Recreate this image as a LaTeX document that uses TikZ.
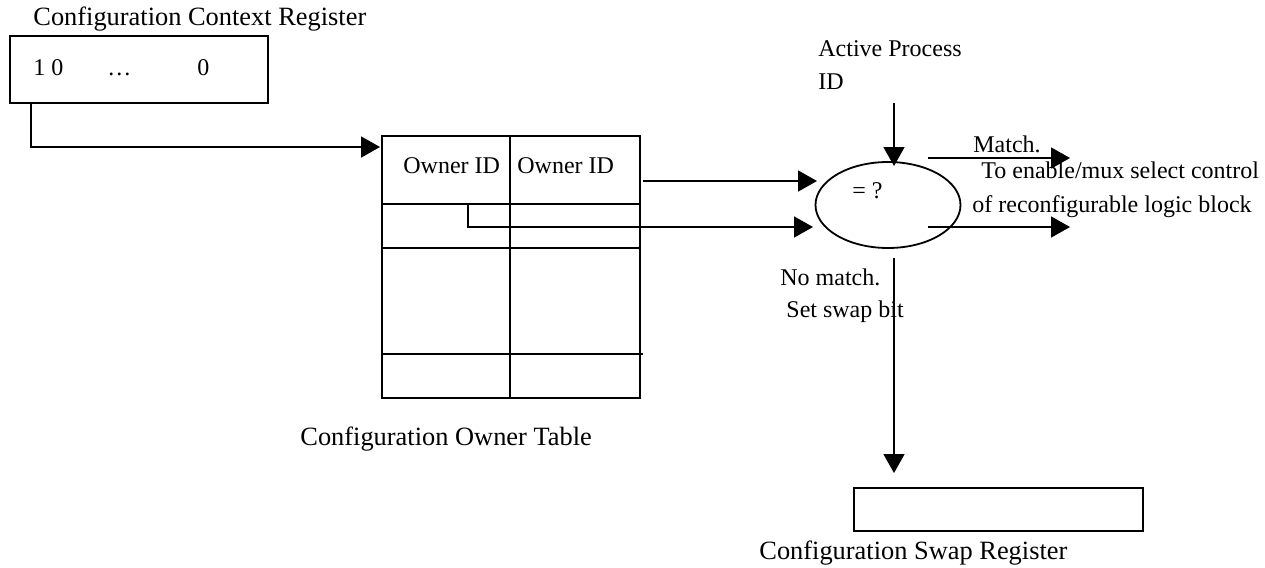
\documentclass[tikz,border=0pt]{standalone}
\usepackage{fontspec}
\setmainfont{Liberation Serif}
\usetikzlibrary{arrows.meta,shapes.geometric}

\tikzset{
  wire/.style={line width=0.9pt},
  arr/.style={wire, -{Triangle[length=9.5pt,width=10.5pt]}},
  boxnode/.style={draw, line width=0.9pt, rectangle, inner sep=0pt},
  txt/.style={inner sep=0pt, anchor=base west, font=\fontsize{12}{14}\selectfont},
  title/.style={inner sep=0pt, anchor=base west, font=\fontsize{13.2}{15}\selectfont},
}

\begin{document}
\begin{tikzpicture}[x=0.5pt, y=-0.5pt]
\useasboundingbox (0,0) rectangle (1265,568);

% Configuration context register
\node[title] (ccrlbl) at (33,25) {Configuration Context Register};
\node[boxnode, minimum width=129pt, minimum height=33.5pt] (ccr) at (139,69.5) {};
\node[txt] (bitA) at (33,75) {1 0};
\node[txt] (bitB) at (107,75) {\ldots};
\node[txt] (bitC) at (197,75) {0};

% Configuration owner table
\node[boxnode, minimum width=129pt, minimum height=131pt] (cot) at (511,267) {};
\draw[wire] (510,136) -- (510,398);
\draw[wire] (382,204) -- (640,204);
\draw[wire] (382,248) -- (640,248);
\draw[wire] (382,354) -- (643,354);
\node[txt] (oidA) at (403,173) {Owner ID};
\node[txt] (oidB) at (517,173) {Owner ID};
\node[title] (cotlbl) at (300,445) {Configuration Owner Table};

% Comparator
\node[draw, line width=0.9pt, ellipse, inner sep=0pt, minimum width=72.5pt, minimum height=43pt] (cmp) at (888,205) {};
\node[txt] (eq) at (852,198) {= ?};

% Active process ID input
\node[txt] (apid1) at (818,56) {Active Process};
\node[txt] (apid2) at (818,89) {ID};
\coordinate (apsrc) at (894,103);
\coordinate (aptip) at (894,166);

% Configuration swap register
\node[boxnode, minimum width=144.5pt, minimum height=21.5pt] (csr) at (998.5,509.5) {};
\node[title] (csrlbl) at (759,559) {Configuration Swap Register};

% Connectors
\coordinate (ccrout) at (31,103);
\coordinate (cotin) at (380,147);
\draw[arr] (ccrout) |- (cotin);

\coordinate (rowout) at (468,204);
\coordinate (cmpinB) at (813,227);
\draw[arr] (rowout) |- (cmpinB);

\coordinate (cotout) at (643,181);
\coordinate (cmpinA) at (817,181);
\draw[arr] (cotout) -- (cmpinA);

\draw[arr] (apsrc) -- (aptip);

\coordinate (matchA) at (928,158);
\coordinate (matchAt) at (1070,158);
\draw[arr] (matchA) -- (matchAt);
\coordinate (matchB) at (928,227);
\coordinate (matchBt) at (1070,227);
\draw[arr] (matchB) -- (matchBt);

\coordinate (nomatch) at (894,258);
\coordinate (swaptip) at (894,473);
\draw[arr] (nomatch) -- (swaptip);

% Output labels
\node[txt] (m1) at (973,152) {Match.};
\node[txt] (m2) at (981,178) {To enable/mux select control};
\node[txt] (m3) at (972,212) {of reconfigurable logic block};
\node[txt] (n1) at (780,285) {No match.};
\node[txt] (n2) at (786,317) {Set swap bit};
\end{tikzpicture}
\end{document}
